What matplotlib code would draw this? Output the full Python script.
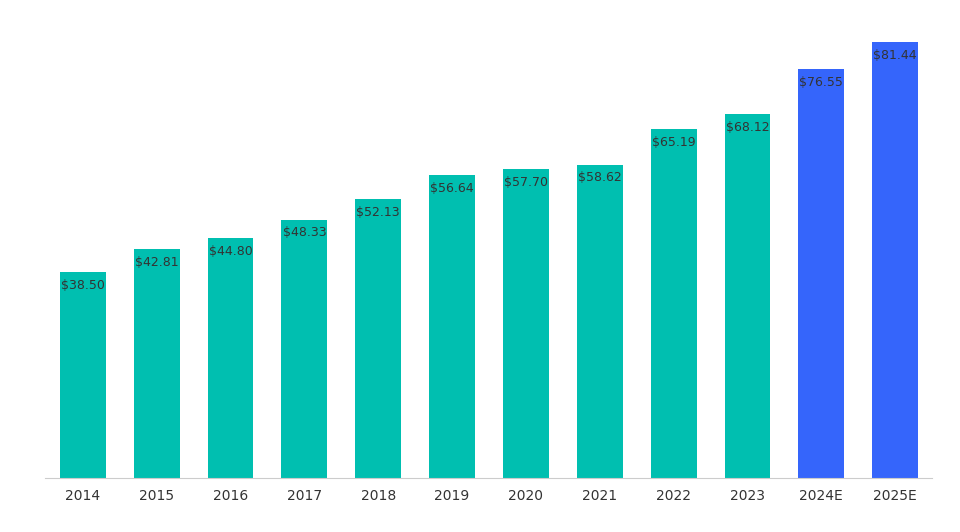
import matplotlib
matplotlib.use("Agg")
import matplotlib.pyplot as plt

years = ["2014", "2015", "2016", "2017", "2018", "2019", "2020", "2021", "2022", "2023", "2024E", "2025E"]
values = [38.50, 42.81, 44.80, 48.33, 52.13, 56.64, 57.70, 58.62, 65.19, 68.12, 76.55, 81.44]
colors = ["#00bfb0"] * 10 + ["#3565fb"] * 2

fig = plt.figure(figsize=(9.6, 5.32), dpi=100)
ax = fig.add_axes([0.047, 0.1015, 0.924, 0.8605])
x = range(len(years))
ax.bar(x, values, width=0.62, color=colors)
for i, v in enumerate(values):
    ax.text(i, v - 1.3, f"${v:.2f}", ha="center", va="top", fontsize=9, color="#333333")

ax.set_xlim(-0.51, 11.5)
ax.set_ylim(0, 85.6)
ax.set_xticks(list(x))
ax.set_xticklabels(years, fontsize=10, color="#333333")
ax.set_yticks([])
for s in ["top", "right", "left"]:
    ax.spines[s].set_visible(False)
ax.spines["bottom"].set_color("#cccccc")
ax.tick_params(axis="x", length=0, pad=8)
fig.savefig("out.png", dpi=100)
